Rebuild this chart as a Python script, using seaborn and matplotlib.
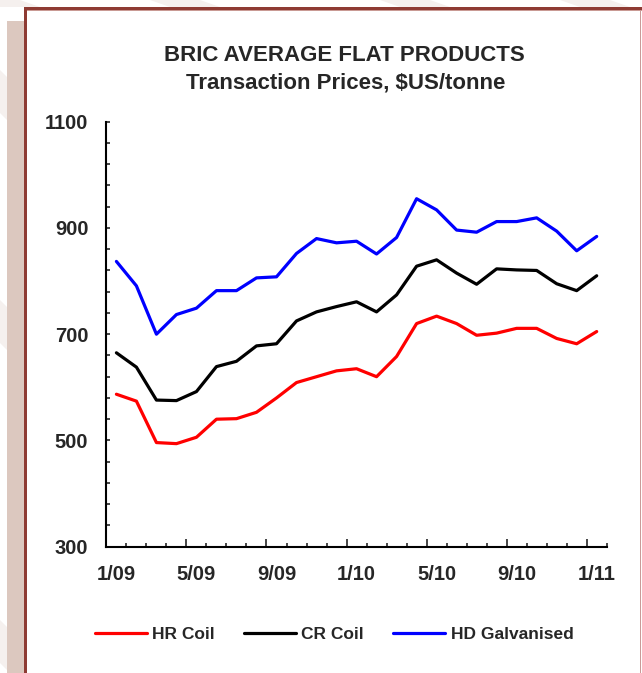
import pandas as pd
import numpy as np
import matplotlib.pyplot as plt
import seaborn as sns
from matplotlib.patches import Rectangle, Polygon
from matplotlib.lines import Line2D

# monthly transaction prices, 1/09 .. 1/11
months = ["1/09", "2/09", "3/09", "4/09", "5/09", "6/09", "7/09", "8/09", "9/09",
          "10/09", "11/09", "12/09", "1/10", "2/10", "3/10", "4/10", "5/10", "6/10",
          "7/10", "8/10", "9/10", "10/10", "11/10", "12/10", "1/11"]
hr_coil = [587, 574, 496, 494, 506, 540, 541, 553, 580, 609, 620, 631, 635,
           620, 658, 720, 734, 720, 698, 702, 711, 711, 692, 682, 705]
cr_coil = [665, 638, 576, 575, 592, 639, 649, 678, 682, 725, 742, 752, 761,
           742, 774, 828, 840, 815, 794, 823, 821, 820, 795, 782, 810]
hd_galv = [837, 791, 700, 737, 749, 782, 782, 806, 808, 852, 880, 872, 875,
           851, 882, 955, 934, 896, 892, 912, 912, 919, 894, 857, 884]
series_names = ["HR Coil", "CR Coil", "HD Galvanised"]
series_colors = ["#ff0000", "#000000", "#0000ff"]
y_labels = [300, 500, 700, 900, 1100]

df = pd.DataFrame({"month": months, "HR Coil": hr_coil,
                   "CR Coil": cr_coil, "HD Galvanised": hd_galv})
df["pos"] = np.arange(len(df))
long_df = df.melt(id_vars=["month", "pos"], var_name="product", value_name="price")

sns.set_style("white")
plt.rcParams["font.family"] = ["Liberation Sans", "DejaVu Sans"]
plt.rcParams["font.weight"] = "bold"

W, H = 642, 673
fig = plt.figure(figsize=(W / 100, H / 100), dpi=100)


def px_rect(x0, y0, x1, y1, color, z=0):
    # rectangle from top-left pixel coords
    fig.patches.append(Rectangle((x0 / W, 1 - y1 / H), (x1 - x0) / W, (y1 - y0) / H,
                                 transform=fig.transFigure, color=color, zorder=z, lw=0))


def px_poly(pts, color):
    fig.patches.append(Polygon([(x / W, 1 - y / H) for x, y in pts], closed=True,
                               transform=fig.transFigure, color=color, lw=0, zorder=0))


# faint diagonal stripes of the slide background
stripe = "#f5f0ee"
for x0 in [-30, 150, 380, 560]:
    px_poly([(x0, 0), (x0 + 50, 0), (x0 + 70, 7), (x0 + 20, 7)], stripe)
for y0 in [70, 300, 620]:
    px_poly([(0, y0), (7, y0 + 7), (7, y0 + 50), (0, y0 + 43)], stripe)

px_rect(7, 21, 24, H, "#dcc8bf")
px_rect(24, 7, W, 9.5, "#8e3b33")
px_rect(24, 9.5, W, 10.5, "#c99a94")
px_rect(24, 7, 27, H, "#8e3b33")
px_rect(639.5, 10, 641, H, "#c99a98")

ax = fig.add_axes([106.4 / W, 1 - 546.7 / H, 500.3 / W, 425 / H])
ax.patch.set_alpha(0)

sns.lineplot(data=long_df, x="pos", y="price", hue="product",
             hue_order=series_names, palette=series_colors,
             linewidth=2.3, legend=False, ax=ax)

ax.set_xlim(-0.5, len(months) - 0.5)
ax.set_ylim(300, 1100)
ax.set_xlabel("")
ax.set_ylabel("")

# tick marks: month boundaries, taller every four months
ax.set_xticks(np.arange(3.5, len(months), 4))
ax.set_xticklabels([])
ax.set_xticks(np.arange(-0.5, len(months) + 0.5, 1), minor=True)
ax.tick_params(axis="x", which="major", bottom=True, direction="in", length=5.5, width=1.2)
ax.tick_params(axis="x", which="minor", bottom=True, direction="in", length=3, width=1.2)

# month labels every fourth month, centred on the category
lab_axis = ax.secondary_xaxis("bottom")
lab_axis.set_xticks(df["pos"][::4])
lab_axis.set_xticklabels(df["month"][::4])
lab_axis.tick_params(length=0, pad=13, labelsize=14.5)
lab_axis.spines["bottom"].set_visible(False)

ax.set_yticks(y_labels)
ax.set_yticks(np.arange(300, 1101, 40), minor=True)
ax.tick_params(axis="y", which="both", left=True, direction="in", length=3, width=1.2,
               pad=13, labelsize=14.5)
for lab in lab_axis.get_xticklabels() + ax.get_yticklabels():
    lab.set_fontweight("bold")

for side in ["top", "right"]:
    ax.spines[side].set_visible(False)
for side in ["left", "bottom"]:
    ax.spines[side].set_color("black")
    ax.spines[side].set_linewidth(1.5)

fig.text(344 / W, 1 - 61 / H, "BRIC AVERAGE FLAT PRODUCTS", ha="center",
         va="baseline", fontsize=16, fontweight="bold")
fig.text(346 / W, 1 - 88 / H, "Transaction Prices, $US/tonne", ha="center",
         va="baseline", fontsize=16, fontweight="bold")

handles = [Line2D([], [], color=c, lw=2.3) for c in series_colors]
fig.legend(handles, series_names, loc="center", bbox_to_anchor=(334 / W, 1 - 634 / H),
           ncol=3, frameon=False, handlelength=3.0, handletextpad=0.3,
           columnspacing=1.7, prop={"size": 12.5, "weight": "bold"})

fig.savefig("out.png", dpi=100)
